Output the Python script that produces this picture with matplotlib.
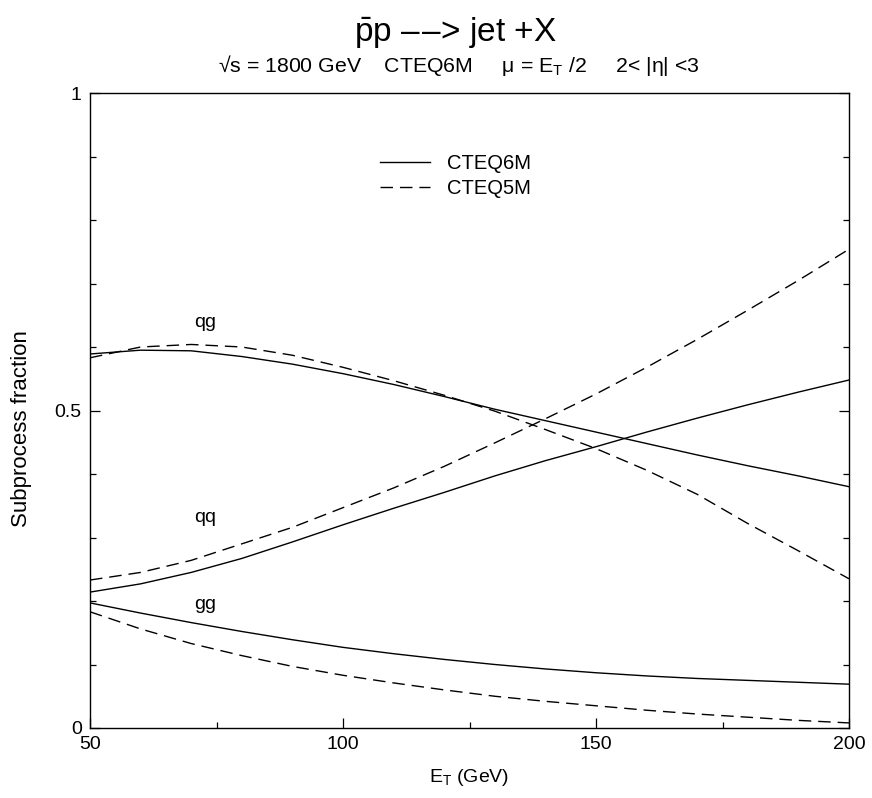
import matplotlib
matplotlib.use("Agg")
import matplotlib.pyplot as plt
from matplotlib.ticker import MultipleLocator

plt.rcParams['font.family'] = ['Liberation Sans', 'DejaVu Sans']
plt.rcParams['mathtext.fontset'] = 'custom'
plt.rcParams['mathtext.rm'] = 'Liberation Sans'
plt.rcParams['mathtext.it'] = 'Liberation Sans:italic'
plt.rcParams['mathtext.bf'] = 'Liberation Sans:bold'

# E_T values (GeV)
et = [50, 60, 70, 80, 90, 100, 110, 120, 130, 140, 150, 160, 170, 180, 190, 200]

# CTEQ6M (solid)
qg_6m = [0.589, 0.595, 0.594, 0.585, 0.573, 0.558, 0.541, 0.522, 0.502, 0.484, 0.466, 0.448, 0.430, 0.413, 0.397, 0.380]
qq_6m = [0.214, 0.227, 0.245, 0.267, 0.293, 0.320, 0.346, 0.371, 0.397, 0.421, 0.443, 0.466, 0.488, 0.509, 0.529, 0.548]
gg_6m = [0.197, 0.181, 0.166, 0.152, 0.139, 0.127, 0.117, 0.108, 0.100, 0.093, 0.087, 0.082, 0.078, 0.075, 0.072, 0.069]

# CTEQ5M (dashed)
qg_5m = [0.583, 0.600, 0.604, 0.600, 0.587, 0.568, 0.547, 0.524, 0.499, 0.470, 0.440, 0.406, 0.368, 0.322, 0.279, 0.235]
qq_5m = [0.233, 0.245, 0.264, 0.290, 0.316, 0.347, 0.378, 0.412, 0.449, 0.487, 0.526, 0.568, 0.612, 0.658, 0.705, 0.754]
gg_5m = [0.183, 0.156, 0.133, 0.114, 0.097, 0.083, 0.071, 0.060, 0.050, 0.042, 0.035, 0.028, 0.022, 0.017, 0.012, 0.008]

curve_labels = ['qg', 'qq', 'gg']
curve_label_y = [0.638, 0.332, 0.194]
curve_label_x = 72.7

fig = plt.figure(figsize=(8.72, 7.98), dpi=100)
ax = fig.add_axes([90/872, 70/798, 759/872, 635/798])

lw = 1.0
dash = (0, (9, 5))
l6, = ax.plot(et, qg_6m, color='black', lw=lw, label='CTEQ6M')
ax.plot(et, qq_6m, color='black', lw=lw)
ax.plot(et, gg_6m, color='black', lw=lw)
l5, = ax.plot(et, qg_5m, color='black', lw=lw, linestyle=dash, label='CTEQ5M')
ax.plot(et, qq_5m, color='black', lw=lw, linestyle=dash)
ax.plot(et, gg_5m, color='black', lw=lw, linestyle=dash)

for lab, yy in zip(curve_labels, curve_label_y):
    ax.text(curve_label_x, yy, lab, fontsize=14, ha='center', va='center')

ax.set_xlim(50, 200)
ax.set_ylim(0, 1)
ax.xaxis.set_major_locator(MultipleLocator(50))
ax.xaxis.set_minor_locator(MultipleLocator(25))
ax.yaxis.set_major_locator(MultipleLocator(0.5))
ax.yaxis.set_minor_locator(MultipleLocator(0.1))
ax.set_yticks([0, 0.5, 1])
ax.set_yticklabels(['0', '0.5', '1'])
ax.tick_params(which='both', direction='in', left=True, right=True, bottom=True, top=False,
               labelsize=14, width=0.9)
ax.tick_params(which='major', length=7, pad=6)
ax.tick_params(which='minor', length=4)
for sp in ax.spines.values():
    sp.set_linewidth(1.0)

ax.set_xlabel(r'E$_\mathrm{T}$ (GeV)', fontsize=14, labelpad=10)
ax.set_ylabel('Subprocess fraction', fontsize=16)
ax.yaxis.set_label_coords(-0.077, 0.472)

leg = ax.legend(handles=[l6, l5], loc='upper left', bbox_to_anchor=(290/759, 1 - 61/635),
                frameon=False, fontsize=14.5, handlelength=2.5, handletextpad=0.85,
                labelspacing=0.3, borderaxespad=0, borderpad=0)

fig.text(455/872, 1 - 33/798, r'$\bar{\mathrm{p}}\mathrm{p}$ –' + '\u200a' + '–> jet +X', fontsize=24,
         ha='center', va='center')
fig.text(459/872, 1 - 66/798,
         r'√s = 1800 GeV    CTEQ6M     μ = E$_\mathrm{T}$ /2     2< |η| <3',
         fontsize=15.3, ha='center', va='center')

fig.savefig('out.png', dpi=100)
